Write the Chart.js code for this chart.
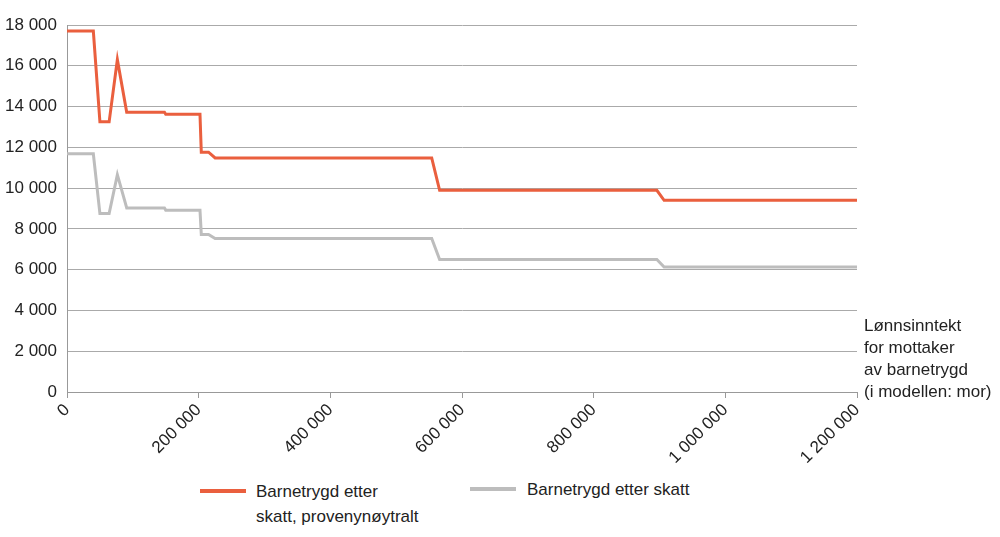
<!DOCTYPE html>
<html>
<head>
    <meta charset="UTF-8">
    <title>Barnetrygd etter skatt</title>
    <script src="https://cdn.jsdelivr.net/npm/chart.js"></script>
    <style>
        body { margin: 0; background: #fff; font-family: "Liberation Sans", Arial, sans-serif; color: #222; }
        #wrap { position: relative; width: 1000px; height: 537px; }
        #chartBox { position: absolute; left: 0; top: 0; width: 1000px; height: 470px; }
        .note { position: absolute; left: 864px; top: 315px; font-size: 17px; line-height: 22px; }
        .leg { position: absolute; font-size: 17px; line-height: 25px; }
        .swatch { position: absolute; height: 4px; width: 46px; }
    </style>
</head>
<body>
<div id="wrap">
    <div id="chartBox"><canvas id="lineChart"></canvas></div>
    <div class="note">Lønnsinntekt<br>for mottaker<br>av barnetrygd<br>(i modellen: mor)</div>
    <div class="swatch" style="left:200px; top:489px; background:#ea5f3e;"></div>
    <div class="leg" style="left:256px; top:479px;">Barnetrygd etter<br>skatt, provenynøytralt</div>
    <div class="swatch" style="left:470px; top:487px; background:#bdbdbd;"></div>
    <div class="leg" style="left:527px; top:477px;">Barnetrygd etter skatt</div>
</div>

<script>
    // lønnsinntekt (kr) og barnetrygd etter skatt (kr)
    const incomes = [0, 40000, 50000, 64000, 76500, 90700, 148000, 150000, 202000, 204000, 215000, 225000, 554000, 566000, 896000, 907000, 1200000];
    const provenyNoytralt = [17700, 17700, 13250, 13250, 16300, 13720, 13720, 13620, 13620, 11760, 11760, 11480, 11480, 9890, 9890, 9400, 9400];
    const etterSkatt = [11680, 11680, 8750, 8750, 10660, 9030, 9030, 8920, 8920, 7730, 7730, 7530, 7530, 6500, 6500, 6130, 6130];

    const fmt = v => String(v).replace(/\B(?=(\d{3})+(?!\d))/g, " ");
    const toPoints = vals => incomes.map((x, i) => ({ x: x, y: vals[i] }));

    Chart.defaults.font.family = '"Liberation Sans", Arial, sans-serif';
    Chart.defaults.font.size = 17;
    Chart.defaults.color = "#222";

    new Chart(document.getElementById("lineChart").getContext("2d"), {
        type: "line",
        data: {
            datasets: [
                { label: "Barnetrygd etter skatt, provenynøytralt", data: toPoints(provenyNoytralt), borderColor: "#ea5f3e", borderWidth: 3, pointRadius: 0, tension: 0 },
                { label: "Barnetrygd etter skatt", data: toPoints(etterSkatt), borderColor: "#bdbdbd", borderWidth: 3, pointRadius: 0, tension: 0 }
            ]
        },
        options: {
            responsive: true,
            maintainAspectRatio: false,
            animation: false,
            layout: { padding: { top: 25, right: 143, left: 0, bottom: 0 } },
            plugins: { legend: { display: false }, tooltip: { enabled: false } },
            scales: {
                x: {
                    type: "linear",
                    min: 0, max: 1200000,
                    ticks: { stepSize: 200000, maxRotation: 45, minRotation: 45, padding: 2, callback: v => fmt(v) },
                    grid: { drawOnChartArea: false, drawTicks: true, tickLength: 6, color: "#999" },
                    border: { color: "#999" },
                    afterFit: s => { s.height = 78; }
                },
                y: {
                    min: 0, max: 18000,
                    ticks: { stepSize: 2000, padding: 10, callback: v => fmt(v) },
                    grid: { color: "#aaa", drawTicks: false },
                    border: { color: "#999" },
                    afterFit: s => { s.width = 67; }
                }
            }
        }
    });
</script>
</body>
</html>
